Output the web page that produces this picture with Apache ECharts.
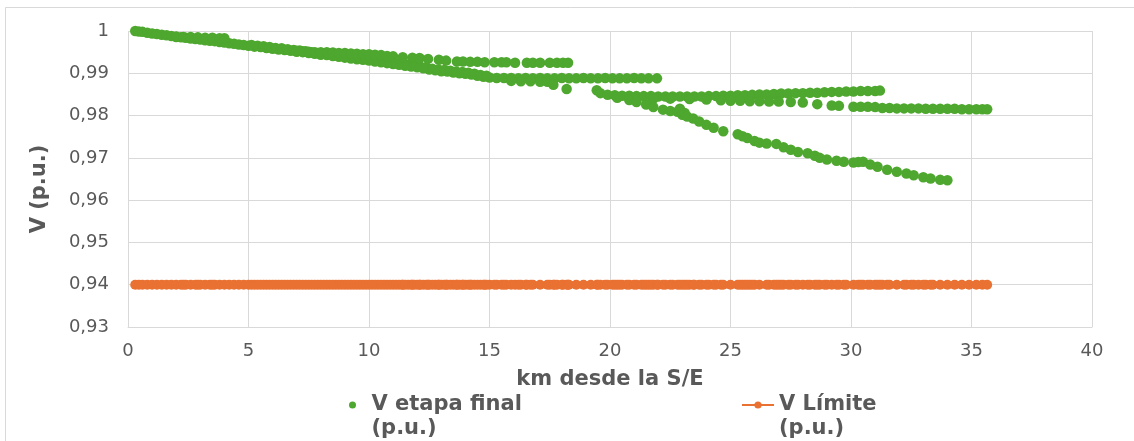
<!DOCTYPE html>
<html>
<head>
<meta charset="utf-8">
<script src="https://cdn.jsdelivr.net/npm/echarts@6/dist/echarts.min.js"></script>
<style>
html,body{margin:0;padding:0;background:#fff;}
#chart{width:1134px;height:441px;}
</style>
</head>
<body>
<div id="chart"></div>
<script>
// ---- Data ----
const xTicks = [0, 5, 10, 15, 20, 25, 30, 35, 40];
const yTicks = [0.93, 0.94, 0.95, 0.96, 0.97, 0.98, 0.99, 1];
const LIMIT = 0.94;

// main feeder trunk
const trunkX = [0.3,0.45,0.6,0.8,1.0,1.2,1.4,1.6,1.8,2.0,2.2,2.4,2.6,2.8,3.0,3.2,3.4,3.6,3.8,4.0,4.2,4.4,4.6,4.8,5.0,5.25,5.5,5.75,6.0,6.25,6.5,6.75,7.0,7.25,7.5,7.75,8.0,8.25,8.5,8.75,9.0,9.25,9.5,9.75,10.0,10.25,10.5,10.75,11.0,11.25,11.5,11.75,12.0,12.25,12.5,12.75,13.0,13.25,13.5,13.75,14.0,14.25,14.5,14.75,15.0,15.3,15.6,15.9,16.2,16.5,16.8,17.1,17.4,17.7,18.0,18.3,18.6,18.9,19.2,19.5,19.8,20.1,20.4,20.7,21.0,21.3,21.6,21.95];
const trunkY = [1.0,0.9999,0.9998,0.9996,0.9994,0.9993,0.9991,0.999,0.9988,0.9986,0.9985,0.9984,0.9982,0.9981,0.998,0.9978,0.9977,0.9976,0.9974,0.9973,0.9971,0.997,0.9968,0.9967,0.9965,0.9963,0.9962,0.996,0.9958,0.9956,0.9955,0.9953,0.9951,0.995,0.9948,0.9946,0.9944,0.9943,0.9941,0.9939,0.9937,0.9935,0.9933,0.9932,0.993,0.9928,0.9926,0.9924,0.9922,0.992,0.9918,0.9916,0.9914,0.9912,0.9909,0.9907,0.9905,0.9904,0.9902,0.99,0.9899,0.9897,0.9894,0.9892,0.989,0.9889,0.9889,0.9889,0.9888,0.9889,0.9888,0.9889,0.9888,0.9888,0.9889,0.9888,0.9888,0.9889,0.9888,0.9888,0.9889,0.9888,0.9888,0.9888,0.9889,0.9888,0.9888,0.9888];

// nodes on the upper edge of the trunk band, 5-15 km
const trunkUpX = [5.125,5.375,5.625,5.875,6.125,6.375,6.625,6.875,7.125,7.375,7.625,7.875,8.125,8.375,8.625,8.875,9.125,9.375,9.625,9.875,10.125,10.375,10.625,10.875,11.125,11.375,11.625,11.875,12.125,12.375,12.625,12.875,13.125,13.375,13.625,13.875,14.125,14.375,14.625,14.875];
const trunkUpY = [0.9967,0.9965,0.9964,0.9962,0.996,0.9959,0.9957,0.9955,0.9954,0.9952,0.995,0.9948,0.9947,0.9945,0.9943,0.9941,0.9939,0.9937,0.9936,0.9934,0.9932,0.993,0.9928,0.9926,0.9924,0.9922,0.992,0.9918,0.9916,0.9914,0.9911,0.9909,0.9908,0.9906,0.9904,0.9903,0.9901,0.9899,0.9896,0.9894];

// short lateral near 2-4 km
const lat1X = [2.0,2.3,2.6,2.9,3.2,3.5,3.8,4.0];
const lat1Y = [0.9987,0.9986,0.9986,0.9985,0.9984,0.9984,0.9983,0.9983];

// upper lateral 7-18.3 km
const lat2X = [7.0,7.25,7.5,7.75,8.0,8.25,8.5,8.75,9.0,9.25,9.5,9.75,10.0,10.25,10.5,10.75,11.0,11.4,11.8,12.1,12.45,12.9,13.2,13.65,13.9,14.2,14.5,14.8,15.2,15.5,15.7,16.06,16.55,16.8,17.1,17.5,17.8,18.05,18.26];
const lat2Y = [0.9953,0.9952,0.9951,0.995,0.995,0.995,0.9949,0.9948,0.9948,0.9947,0.9946,0.9945,0.9945,0.9944,0.9943,0.9941,0.994,0.9938,0.9937,0.9936,0.9934,0.9932,0.993,0.9928,0.9928,0.9927,0.9927,0.9926,0.9926,0.9926,0.9926,0.9925,0.9925,0.9925,0.9925,0.9925,0.9925,0.9925,0.9925];

// scattered nodes 16-18 km
const lat3X = [15.9,16.3,16.7,17.1,17.4,17.65,18.2];
const lat3Y = [0.9882,0.9881,0.9881,0.988,0.988,0.9873,0.9863];

// branch starting at 19.5 km (upper)
const brUpX = [19.45,19.6,19.9,20.2,20.5,20.8,21.1,21.4,21.7,22.0,22.3,22.6,22.9,23.2,23.5,23.8,24.1,24.4,24.7,25.0,25.3,25.6,25.9,26.2,26.5,26.8,27.1,27.4,27.7,28.0,28.3,28.6,28.9,29.2,29.5,29.8,30.1,30.4,30.7,31.0,31.2];
const brUpY = [0.986,0.9853,0.9849,0.9848,0.9847,0.9847,0.9846,0.9846,0.9846,0.9845,0.9845,0.9845,0.9845,0.9845,0.9845,0.9845,0.9846,0.9846,0.9847,0.9847,0.9848,0.9848,0.9849,0.985,0.985,0.9851,0.9852,0.9852,0.9853,0.9853,0.9854,0.9854,0.9855,0.9856,0.9856,0.9857,0.9857,0.9858,0.9858,0.9858,0.9859];

// branch (lower) to 35.7 km
const brLoX = [20.3,21.0,21.8,22.5,23.3,24.0,24.6,25.0,25.4,25.8,26.2,26.6,27.0,27.5,28.0,28.6,29.2,29.5,30.1,30.4,30.7,31.0,31.3,31.6,31.9,32.2,32.5,32.8,33.1,33.4,33.7,34.0,34.3,34.6,34.9,35.2,35.45,35.65];
const brLoY = [0.9842,0.9841,0.984,0.984,0.9839,0.9838,0.9836,0.9835,0.9835,0.9834,0.9834,0.9833,0.9833,0.9832,0.9831,0.9827,0.9824,0.9823,0.9821,0.9821,0.9821,0.982,0.9818,0.9818,0.9817,0.9817,0.9817,0.9817,0.9816,0.9816,0.9816,0.9816,0.9816,0.9815,0.9815,0.9815,0.9815,0.9815];

// descending branch to 34 km
const brDnX = [20.8,21.1,21.5,21.8,22.2,22.5,22.8,22.9,23.0,23.1,23.2,23.45,23.7,24.0,24.3,24.7,25.3,25.5,25.7,26.0,26.2,26.5,26.9,27.2,27.5,27.8,28.2,28.5,28.7,29.0,29.4,29.7,30.1,30.3,30.5,30.8,31.1,31.5,31.9,32.3,32.6,33.0,33.3,33.7,34.0];
const brDnY = [0.9837,0.9832,0.9826,0.982,0.9814,0.9811,0.9809,0.9816,0.9802,0.9806,0.9798,0.9793,0.9786,0.9778,0.9771,0.9763,0.9756,0.9751,0.9747,0.974,0.9736,0.9734,0.9733,0.9725,0.9719,0.9714,0.9711,0.9705,0.97,0.9696,0.9693,0.9691,0.9689,0.969,0.9691,0.9684,0.9679,0.9672,0.9667,0.9663,0.9659,0.9654,0.9651,0.9648,0.9647];

// ---- build series data ----
function pairs(xs, ys){ return xs.map((x,i)=>[x, ys[i]]); }
const greenData = [].concat(
  pairs(trunkX, trunkY), pairs(trunkUpX, trunkUpY), pairs(lat1X, lat1Y), pairs(lat2X, lat2Y), pairs(lat3X, lat3Y),
  pairs(brUpX, brUpY), pairs(brLoX, brLoY), pairs(brDnX, brDnY)
);
const nodeX = Array.from(new Set(greenData.map(p=>p[0]))).sort((a,b)=>a-b);
const limitData = nodeX.map(x=>[x, LIMIT]);

const GREEN = '#4EA72E', ORANGE = '#E97132', TXT = '#595959', GRID = '#d9d9d9';
const FONT = 'DejaVu Sans';
const twoLines = n => '\n' + n.replace(' (p.u.)', '\n(p.u.)');

const chart = echarts.init(document.getElementById('chart'), null, {renderer:'canvas'});
chart.setOption({
  animation: false,
  backgroundColor: '#fff',
  graphic: [{
    type: 'rect', shape: {x: 5.5, y: 7.5, width: 1200, height: 500},
    style: {fill: 'none', stroke: GRID, lineWidth: 1}, z: -10, silent: true
  }],
  grid: {left: 128, right: 42, top: 31, bottom: 114, containLabel: false},
  xAxis: {
    type: 'value', min: xTicks[0], max: xTicks[xTicks.length-1], interval: 5,
    name: 'km desde la S/E', nameLocation: 'middle', nameGap: 42,
    nameTextStyle: {fontFamily: FONT, fontSize: 21, fontWeight: 'bold', color: TXT},
    axisLine: {show: true, lineStyle: {color: GRID, width: 1}},
    axisTick: {show: false},
    axisLabel: {fontFamily: FONT, fontSize: 18, color: TXT, margin: 15},
    splitLine: {show: true, lineStyle: {color: GRID, width: 1}}
  },
  yAxis: {
    type: 'value', min: yTicks[0], max: yTicks[yTicks.length-1], interval: 0.01,
    name: 'V (p.u.)', nameLocation: 'middle', nameGap: 78,
    nameTextStyle: {fontFamily: FONT, fontSize: 21, fontWeight: 'bold', color: TXT, padding: [0, 20, 0, 0]},
    axisLine: {show: false},
    axisTick: {show: false},
    axisLabel: {fontFamily: FONT, fontSize: 18, color: TXT, margin: 19,
      formatter: v => (Math.abs(v-1) < 1e-9 ? '1' : v.toFixed(2).replace('.', ','))},
    splitLine: {show: true, lineStyle: {color: GRID, width: 1}}
  },
  legend: [{
    data: ['V etapa final (p.u.)'], left: 349, top: 369, padding: 0,
    icon: 'circle', itemWidth: 28, itemHeight: 7,
    formatter: twoLines,
    textStyle: {fontFamily: FONT, fontSize: 21, fontWeight: 'bold', color: TXT, lineHeight: 24}
  }, {
    data: ['V Límite (p.u.)'], left: 741, top: 369, padding: 0,
    itemWidth: 32, itemHeight: 9,
    formatter: twoLines,
    textStyle: {fontFamily: FONT, fontSize: 21, fontWeight: 'bold', color: TXT, lineHeight: 24}
  }],
  series: [{
    name: 'V etapa final (p.u.)', type: 'scatter', data: greenData,
    symbol: 'circle', symbolSize: 10.5, itemStyle: {color: GREEN, opacity: 1}, z: 3
  }, {
    name: 'V Límite (p.u.)', type: 'line', data: limitData,
    symbol: 'circle', symbolSize: 10, showSymbol: true,
    itemStyle: {color: ORANGE}, lineStyle: {color: ORANGE, width: 3}, z: 2
  }]
});
</script>
</body>
</html>
